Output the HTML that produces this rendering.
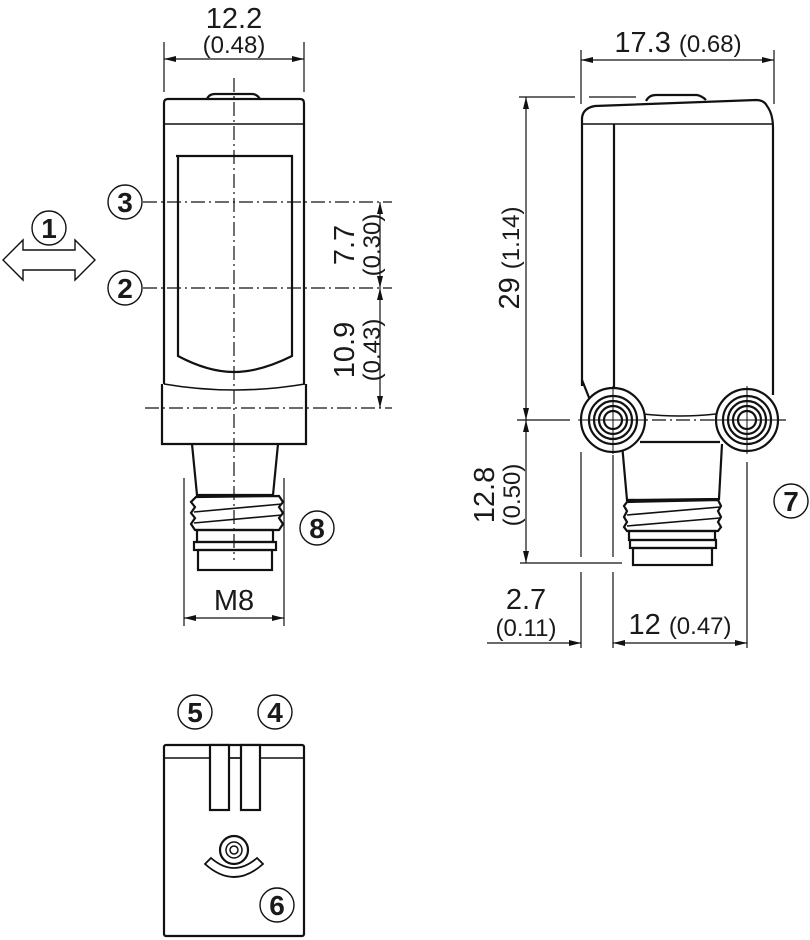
<!DOCTYPE html>
<html><head><meta charset="utf-8"><style>
html,body{margin:0;padding:0;background:#fff}
svg{display:block}
text{font-family:"Liberation Sans",sans-serif;fill:#1a1a1a}
</style></head><body>
<svg width="810" height="940" viewBox="0 0 810 940" xmlns="http://www.w3.org/2000/svg">
<defs>
<marker id="a" viewBox="0 0 12 6" refX="12" refY="3" markerWidth="12" markerHeight="6" orient="auto-start-reverse" markerUnits="userSpaceOnUse"><path d="M0,0 L12,3 L0,6 z" fill="#111"/></marker>
</defs>
<g fill="none" stroke="#111" stroke-width="1.2">
<line x1="164" y1="42" x2="164" y2="92"/><line x1="304" y1="42" x2="304" y2="92"/>
<line x1="164" y1="59" x2="304" y2="59" marker-start="url(#a)" marker-end="url(#a)"/>
<line x1="234" y1="78" x2="234" y2="560" stroke-dasharray="14,4,2,4"/>
<line x1="143" y1="202" x2="392" y2="202" stroke-dasharray="14,4,2,4"/>
<line x1="143" y1="288" x2="392" y2="288" stroke-dasharray="14,4,2,4"/>
<line x1="145" y1="408" x2="392" y2="408" stroke-dasharray="14,4,2,4"/>
<line x1="380" y1="202" x2="380" y2="288" marker-start="url(#a)" marker-end="url(#a)"/>
<line x1="380" y1="288" x2="380" y2="408" marker-start="url(#a)" marker-end="url(#a)"/>
<line x1="184" y1="478" x2="184" y2="626"/><line x1="284" y1="478" x2="284" y2="626"/>
<line x1="184" y1="618" x2="284" y2="618" marker-start="url(#a)" marker-end="url(#a)"/>
</g>
<g fill="none" stroke="#111" stroke-width="2.2">
<path d="M207,99 Q209,94 215,94 L252,94 Q257,94 260,99"/>
<path d="M168,99 L300,99 Q304,99 304,103 L304,384 M164,384 L164,103 Q164,99 168,99"/>
<line x1="164" y1="124" x2="304" y2="124" stroke-width="1.6"/>
<path d="M176,156 L292,156 L292,356 Q260,372 234,372 Q208,372 178,356 L178,156"/>
<path d="M164,384 Q234,396 305,384" stroke-width="1.6"/>
<path d="M162,384 L162,444 L306,444 L306,384"/>
<path d="M192,444 L197,495 L273,495 L278,444"/>
<path d="M196,497 L279,496 L283,502 L279,507 L283,513 L279,518 L283,524 L279,530 L195,530 L191,524 L195,518 L191,513 L195,507 L191,502 Z"/>
<line x1="194" y1="512" x2="282" y2="504" stroke-width="1.6"/><line x1="194" y1="523" x2="282" y2="515" stroke-width="1.6"/>
<rect x="197" y="530" width="76" height="12"/>
<rect x="194" y="542" width="82" height="8"/>
<rect x="198" y="550" width="74" height="20"/>
</g>
<path d="M3,260 L23,240 L23,250 L75,250 L75,240 L95,260 L75,280 L75,270 L23,270 L23,280 Z" fill="none" stroke="#111" stroke-width="1.4"/>
<g fill="none" stroke="#111" stroke-width="1.4">
<circle cx="49" cy="228" r="17"/><circle cx="125" cy="202" r="17"/><circle cx="125" cy="288" r="17"/><circle cx="317" cy="528" r="17"/>
<circle cx="791" cy="501" r="17"/><circle cx="195" cy="712" r="17"/><circle cx="275" cy="712" r="17"/><circle cx="277" cy="905" r="17"/>
</g>
<g style="font-size:28px;font-weight:bold" text-anchor="middle">
<text x="49" y="238">1</text><text x="125" y="212">3</text><text x="125" y="298">2</text><text x="317" y="538">8</text>
<text x="791" y="511">7</text><text x="195" y="722">5</text><text x="275" y="722">4</text><text x="277" y="915">6</text>
</g>
<g style="font-size:29px" text-anchor="middle">
<text x="234" y="28">12.2</text><text x="234" y="53" style="font-size:24px">(0.48)</text>
<text x="234" y="610">M8</text>
<text transform="translate(354,245) rotate(-90)">7.7</text>
<text transform="translate(380,245) rotate(-90)" style="font-size:24px">(0.30)</text>
<text transform="translate(354,350) rotate(-90)">10.9</text>
<text transform="translate(380,350) rotate(-90)" style="font-size:24px">(0.43)</text>
<text x="678" y="52">17.3 <tspan style="font-size:24px">(0.68)</tspan></text>
<text transform="translate(519,258) rotate(-90)">29 <tspan style="font-size:24px">(1.14)</tspan></text>
<text transform="translate(494,495) rotate(-90)">12.8</text>
<text transform="translate(520,495) rotate(-90)" style="font-size:24px">(0.50)</text>
<text x="526" y="609">2.7</text><text x="526" y="636" style="font-size:24px">(0.11)</text>
<text x="680" y="634">12 <tspan style="font-size:24px">(0.47)</tspan></text>
</g>
<g fill="none" stroke="#111" stroke-width="1.2">
<line x1="581" y1="50" x2="581" y2="104"/><line x1="774" y1="50" x2="774" y2="104"/>
<line x1="581" y1="60" x2="774" y2="60" marker-start="url(#a)" marker-end="url(#a)"/>
<line x1="519" y1="97" x2="575" y2="97"/><line x1="589" y1="97" x2="636" y2="97"/>
<line x1="526" y1="97" x2="526" y2="420" marker-start="url(#a)" marker-end="url(#a)"/>
<line x1="526" y1="420" x2="526" y2="563" marker-start="url(#a)" marker-end="url(#a)"/>
<line x1="517" y1="420" x2="570" y2="420"/>
<line x1="580" y1="420" x2="790" y2="420" stroke-dasharray="14,4,2,4"/>
<line x1="520" y1="563" x2="622" y2="563"/>
<line x1="581" y1="452" x2="581" y2="557"/><line x1="581" y1="572" x2="581" y2="648"/>
<line x1="613" y1="455" x2="613" y2="557"/><line x1="613" y1="572" x2="613" y2="648"/>
<line x1="747" y1="462" x2="747" y2="648"/>
<line x1="487" y1="643" x2="581" y2="643" marker-end="url(#a)"/>
<line x1="613" y1="643" x2="747" y2="643" marker-start="url(#a)" marker-end="url(#a)"/>
</g>
<g fill="none" stroke="#111" stroke-width="2.2">
<path d="M646,101 Q649,95 656,95 L697,95 Q702,96 706,100"/>
<path d="M582,386 L582,118 Q583,108 595,106 L756,100 Q764,100 767,106 Q773,114 773,128 L773,395"/>
<line x1="582" y1="124" x2="773" y2="124" stroke-width="1.6"/>
<line x1="614" y1="124" x2="614" y2="390"/>
<path d="M582,380 L590,400"/>
<path d="M643,414 Q680,418 716,414" stroke-width="1.6"/>
<line x1="640" y1="442" x2="720" y2="442"/>
<path d="M622,444 L627,500 L719,499 L722,444"/>
<path d="M627,502 L718,500 L721,506 L718,511 L721,517 L718,522 L721,527 L718,531 L627,531 L624,527 L627,522 L624,517 L627,511 L624,506 Z"/>
<line x1="627" y1="515" x2="720" y2="507" stroke-width="1.6"/><line x1="627" y1="526" x2="720" y2="518" stroke-width="1.6"/>
<rect x="629" y="531" width="86" height="9"/>
<rect x="630" y="540" width="86" height="8"/>
<rect x="633" y="548" width="79" height="17"/>
<circle cx="613" cy="420" r="32" fill="#fff"/><circle cx="613" cy="420" r="24"/><circle cx="613" cy="420" r="19"/><circle cx="613" cy="420" r="14"/><circle cx="613" cy="420" r="9"/>
<circle cx="747" cy="420" r="31" fill="#fff"/><circle cx="747" cy="420" r="24"/><circle cx="747" cy="420" r="19"/><circle cx="747" cy="420" r="14"/><circle cx="747" cy="420" r="9"/>
</g>
<g stroke="#111" stroke-width="1"><line x1="578" y1="420" x2="648" y2="420"/><line x1="613" y1="386" x2="613" y2="454"/><line x1="712" y1="420" x2="782" y2="420"/><line x1="747" y1="386" x2="747" y2="454"/></g>
<g fill="none" stroke="#111" stroke-width="2.2">
<rect x="164" y="745" width="140" height="191" rx="2"/>
<line x1="164" y1="758" x2="304" y2="758" stroke-width="1.4"/>
<rect x="210" y="745" width="19" height="65" fill="#fff"/>
<rect x="241" y="745" width="19" height="65" fill="#fff"/>
<line x1="229" y1="758" x2="241" y2="758" stroke-width="1.4"/>
<path d="M205,864 Q234,890 263,864 L257,858 Q234,878 211,858 Z" stroke-width="1.8"/>
<circle cx="234" cy="850" r="14" fill="#fff"/><circle cx="234" cy="850" r="8" stroke-width="1.5"/><circle cx="234" cy="850" r="4" stroke-width="1.5"/>
</g>
</svg>
</body></html>
